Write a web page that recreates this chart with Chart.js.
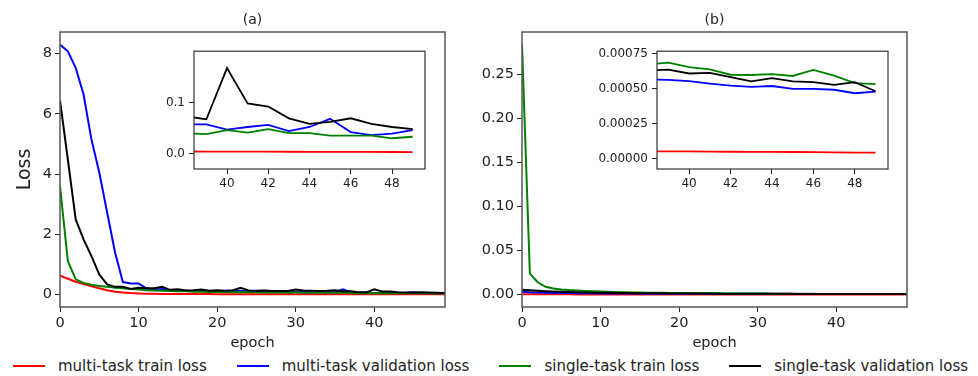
<!DOCTYPE html>
<html>
<head>
<meta charset="utf-8">
<script src="https://cdn.jsdelivr.net/npm/chart.js@4"></script>
<style>
  body { margin: 0; background: #fff; font-family: "DejaVu Sans", sans-serif; }
  #fig { position: relative; width: 978px; height: 376px; overflow: hidden; }
  #fig canvas { position: absolute; }
  #legend { position: absolute; left: 13px; top: 357px; display: flex; align-items: center; font-size: 15px; color: #222; white-space: nowrap; }
  .item { display: flex; align-items: center; margin-right: 30px; }
  .swatch { width: 32px; height: 2px; margin-right: 13px; }
</style>
</head>
<body>
<div id="fig">
  <canvas id="lossA" width="460" height="352" style="left:0;top:0"></canvas>
  <canvas id="lossB" width="460" height="352" style="left:460px;top:0"></canvas>
  <canvas id="zoomA" width="280" height="150" style="left:150px;top:40px"></canvas>
  <canvas id="zoomB" width="300" height="150" style="left:590px;top:40px"></canvas>
  <div id="legend"></div>
</div>
<script>
const seriesNames = [
  "multi-task train loss",
  "multi-task validation loss",
  "single-task train loss",
  "single-task validation loss"
];
const seriesColors = ["#ff0000", "#0000ff", "#008000", "#000000"];

// (a) losses per epoch, 0..49
const mtTrainA = [0.62, 0.52, 0.42, 0.34, 0.27, 0.2, 0.14, 0.09, 0.06, 0.042,
  0.03, 0.022, 0.017, 0.014, 0.012, 0.011, 0.01, 0.009, 0.0085, 0.008,
  0.0078, 0.0075, 0.0072, 0.007, 0.0068, 0.0066, 0.0064, 0.0062, 0.006, 0.0058,
  0.0056, 0.0054, 0.0052, 0.005, 0.0049, 0.0047, 0.0046, 0.0044, 0.0042, 0.0041,
  0.004, 0.0039, 0.0038, 0.0037, 0.0036, 0.0035, 0.0034, 0.0033, 0.0032, 0.0031];
const mtValA = [8.3, 8.08, 7.53, 6.64, 5.15, 4.05, 2.72, 1.4, 0.41, 0.36,
  0.36, 0.2, 0.15, 0.18, 0.14, 0.13, 0.12, 0.11, 0.12, 0.1,
  0.11, 0.09, 0.1, 0.12, 0.09, 0.08, 0.09, 0.08, 0.08, 0.07,
  0.09, 0.08, 0.07, 0.07, 0.08, 0.07, 0.17, 0.07, 0.057, 0.057,
  0.047, 0.052, 0.056, 0.044, 0.052, 0.068, 0.042, 0.036, 0.039, 0.046];
const stTrainA = [3.6, 1.1, 0.5, 0.38, 0.32, 0.28, 0.25, 0.22, 0.2, 0.18,
  0.16, 0.14, 0.13, 0.12, 0.11, 0.1, 0.1, 0.09, 0.09, 0.08,
  0.08, 0.08, 0.07, 0.08, 0.07, 0.07, 0.06, 0.06, 0.06, 0.06,
  0.06, 0.05, 0.05, 0.05, 0.05, 0.05, 0.05, 0.05, 0.04, 0.038,
  0.046, 0.041, 0.048, 0.04, 0.04, 0.035, 0.035, 0.035, 0.03, 0.033];
const stValA = [6.45, 4.48, 2.49, 1.83, 1.27, 0.66, 0.33, 0.25, 0.25, 0.18,
  0.22, 0.2, 0.2, 0.25, 0.15, 0.17, 0.13, 0.14, 0.16, 0.12,
  0.14, 0.12, 0.14, 0.22, 0.13, 0.12, 0.13, 0.11, 0.11, 0.11,
  0.16, 0.13, 0.12, 0.11, 0.12, 0.14, 0.1, 0.1, 0.073, 0.067,
  0.167, 0.098, 0.092, 0.069, 0.058, 0.062, 0.069, 0.058, 0.052, 0.048];

// (b) losses per epoch, 0..49
const mtTrainB = [0.0003, 0.00026, 0.00022, 0.00019, 0.00017, 0.00015, 0.00014, 0.00013, 0.00012, 0.00011,
  0.000105, 0.0001, 0.000095, 0.00009, 0.000086, 0.000082, 0.000079, 0.000076, 0.000073, 0.00007,
  0.000068, 0.000066, 0.000064, 0.000062, 0.00006, 0.000059, 0.000058, 0.000057, 0.000056, 0.000055,
  0.000054, 0.000054, 0.000053, 0.000053, 0.000052, 0.000052, 0.000051, 0.000051, 0.00005, 0.00005,
  0.00005, 0.000049, 0.000048, 0.000047, 0.000047, 0.000046, 0.000045, 0.000044, 0.000042, 0.000041];
const mtValB = [0.003, 0.0025, 0.0022, 0.002, 0.0018, 0.0017, 0.0016, 0.0015, 0.0014, 0.0013,
  0.0012, 0.0012, 0.0011, 0.0011, 0.001, 0.001, 0.00095, 0.0009, 0.00088, 0.00085,
  0.00082, 0.0008, 0.00078, 0.00076, 0.00074, 0.00072, 0.0007, 0.00069, 0.00068, 0.00067,
  0.00066, 0.00065, 0.00064, 0.00063, 0.00062, 0.00061, 0.0006, 0.00059, 0.000568, 0.000564,
  0.000555, 0.000537, 0.000523, 0.000514, 0.00052, 0.0005, 0.0005, 0.000493, 0.000468, 0.00048];
const stTrainB = [0.284, 0.0236, 0.0139, 0.0087, 0.0068, 0.0058, 0.005, 0.0045, 0.004, 0.0036,
  0.0033, 0.003, 0.0028, 0.0026, 0.0024, 0.0022, 0.0021, 0.002, 0.0019, 0.0018,
  0.0017, 0.0016, 0.0015, 0.0014, 0.0014, 0.0013, 0.0012, 0.0012, 0.0011, 0.0011,
  0.001, 0.001, 0.00095, 0.0009, 0.00087, 0.00084, 0.0008, 0.00077, 0.000675, 0.000688,
  0.000656, 0.00064, 0.000601, 0.000599, 0.000605, 0.000592, 0.000635, 0.000594, 0.000541, 0.000534];
const stValB = [0.0055, 0.0048, 0.0042, 0.0037, 0.0033, 0.003, 0.0027, 0.0025, 0.0023, 0.0021,
  0.002, 0.0019, 0.0018, 0.0017, 0.0016, 0.0015, 0.0014, 0.0013, 0.0013, 0.0012,
  0.0012, 0.0011, 0.0011, 0.001, 0.001, 0.00095, 0.0009, 0.00088, 0.00085, 0.00082,
  0.0008, 0.00078, 0.00076, 0.00074, 0.00072, 0.0007, 0.00068, 0.00066, 0.000633, 0.000637,
  0.00061, 0.000615, 0.000583, 0.000553, 0.000576, 0.000553, 0.000548, 0.000528, 0.000548, 0.000482];

const mainXTicks = [0, 10, 20, 30, 40];
const zoomXTicks = [40, 42, 44, 46, 48];
const yTicksA = [0, 2, 4, 6, 8];
const yTicksB = [0, 0.05, 0.1, 0.15, 0.2, 0.25];
const zoomYTicksA = [0, 0.1];
const zoomYTicksB = [0, 0.00025, 0.0005, 0.00075];
const zoomFrom = 38; // insets start at this epoch

const FONT = "'DejaVu Sans', sans-serif";
const INK = "#222";

// box around the plot area, optionally filled (insets sit over the main axes)
const frame = {
  id: "frame",
  beforeDatasetsDraw(chart, args, o) {
    if (!o.fill) return;
    const { ctx, chartArea: a } = chart;
    ctx.save();
    ctx.fillStyle = o.fill;
    ctx.fillRect(a.left, a.top, a.width, a.height);
    ctx.restore();
  },
  afterDatasetsDraw(chart, args, o) {
    const { ctx, chartArea: a } = chart;
    ctx.save();
    ctx.strokeStyle = o.color;
    ctx.lineWidth = o.width;
    ctx.strokeRect(a.left, a.top, a.width, a.height);
    ctx.restore();
  }
};

function axis(c) {
  return {
    type: "linear",
    min: c.min,
    max: c.max,
    afterBuildTicks: s => { s.ticks = c.ticks.map(value => ({ value })); },
    afterFit: s => { if (c.width) s.width = c.width; if (c.height) s.height = c.height; },
    border: { display: false },
    grid: { display: true, drawOnChartArea: false, drawTicks: true, tickLength: 5, tickColor: INK, tickWidth: 1 },
    ticks: {
      padding: c.pad,
      maxRotation: 0,
      color: INK,
      font: { family: FONT, size: c.size },
      callback: v => v.toFixed(c.digits)
    },
    title: c.title ? {
      display: true,
      text: c.title,
      color: INK,
      font: { family: FONT, size: c.titleSize },
      padding: c.titlePad
    } : { display: false }
  };
}

function lossChart(id, series, from, cfg) {
  return new Chart(document.getElementById(id), {
    type: "line",
    data: {
      datasets: series.map((vals, i) => ({
        label: seriesNames[i],
        data: vals.slice(from).map((y, k) => ({ x: from + k, y })),
        borderColor: seriesColors[i],
        borderWidth: cfg.lineWidth,
        pointRadius: 0,
        tension: 0,
        fill: false,
        order: series.length - 1 - i
      }))
    },
    options: {
      responsive: false,
      animation: false,
      events: [],
      layout: { padding: cfg.padding },
      plugins: {
        legend: { display: false },
        tooltip: { enabled: false },
        title: cfg.title ? {
          display: true,
          text: cfg.title,
          fullSize: false,
          color: INK,
          font: { family: FONT, size: 14, weight: "normal" },
          padding: { top: 11.6, bottom: 3.6 }
        } : { display: false },
        frame: cfg.frame
      },
      scales: { x: axis(cfg.x), y: axis(cfg.y) }
    },
    plugins: [frame]
  });
}

const mainFrame = { color: "#555", width: 1.5 };
const zoomFrame = { color: "#333", width: 1.2, fill: "#fff" };

lossChart("lossA", [mtTrainA, mtValA, stTrainA, stValA], 0, {
  title: "(a)",
  lineWidth: 2,
  padding: { left: 0, right: 15, top: 0, bottom: 0 },
  frame: mainFrame,
  x: { min: 0, max: 49, ticks: mainXTicks, digits: 0, size: 14.5, pad: 3, height: 45,
       title: "epoch", titleSize: 14.5, titlePad: { top: 0, bottom: 0 } },
  y: { min: -0.42, max: 8.72, ticks: yTicksA, digits: 0, size: 14.5, pad: 3, width: 60,
       title: "Loss", titleSize: 19, titlePad: { top: 14, bottom: 0 } }
});

lossChart("lossB", [mtTrainB, mtValB, stTrainB, stValB], 0, {
  title: "(b)",
  lineWidth: 2,
  padding: { left: 0, right: 13, top: 0, bottom: 0 },
  frame: mainFrame,
  x: { min: 0, max: 49, ticks: mainXTicks, digits: 0, size: 14.5, pad: 3, height: 45,
       title: "epoch", titleSize: 14.5, titlePad: { top: 0, bottom: 0 } },
  y: { min: -0.0142, max: 0.298, ticks: yTicksB, digits: 2, size: 14.5, pad: 3, width: 62 }
});

lossChart("zoomA", [mtTrainA, mtValA, stTrainA, stValA], zoomFrom, {
  lineWidth: 1.8,
  padding: { left: 0, right: 5, top: 5, bottom: 0 },
  frame: zoomFrame,
  x: { min: 38.4, max: 49.6, ticks: zoomXTicks, digits: 0, size: 12, pad: 3, height: 21 },
  y: { min: -0.03, max: 0.2, ticks: zoomYTicksA, digits: 1, size: 12, pad: 4, width: 44 }
});

lossChart("zoomB", [mtTrainB, mtValB, stTrainB, stValB], zoomFrom, {
  lineWidth: 1.8,
  padding: { left: 0, right: 2, top: 6, bottom: 0 },
  frame: zoomFrame,
  x: { min: 38.45, max: 49.6, ticks: zoomXTicks, digits: 0, size: 12, pad: 3, height: 21 },
  y: { min: -0.000076, max: 0.00077, ticks: zoomYTicksB, digits: 5, size: 12, pad: 4, width: 67 }
});

// shared legend under both panels
const legend = document.getElementById("legend");
seriesNames.forEach((name, i) => {
  const item = document.createElement("div");
  item.className = "item";
  const swatch = document.createElement("span");
  swatch.className = "swatch";
  swatch.style.background = seriesColors[i];
  const text = document.createElement("span");
  text.textContent = name;
  item.append(swatch, text);
  legend.append(item);
});
</script>
</body>
</html>
